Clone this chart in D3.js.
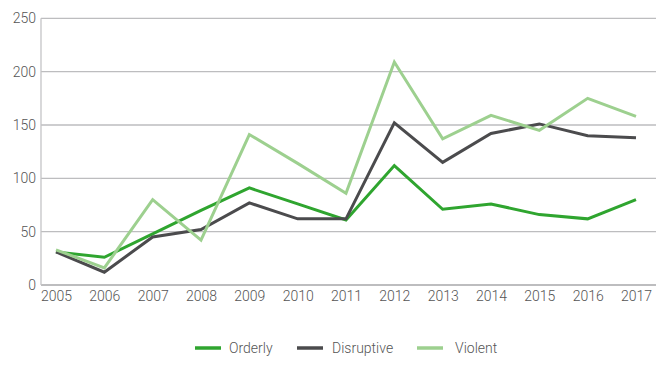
<!DOCTYPE html>
<html><head><meta charset="utf-8">
<script src="https://cdn.jsdelivr.net/npm/d3@7"></script>
<style>body{margin:0;background:#fff}svg{display:block}</style>
</head><body>
<script>
const years = ["2005","2006","2007","2008","2009","2010","2011","2012","2013","2014","2015","2016","2017"];
const orderly = [31,26,48,70,91,76,61,112,71,76,66,62,80];
const disruptive = [31,12,45,52,77,62,62,152,115,142,151,140,138];
const violent = [33,16,80,42,141,114,86,209,137,159,145,175,158];
const yTicks = [0,50,100,150,200,250];
const seriesNames = ["Orderly","Disruptive","Violent"];
const colors = ["#2fa52f","#4b4b4d","#9dd08f"];

const W=661,H=367;
const svg=d3.select("body").append("svg").attr("width",W).attr("height",H);
const font="Roboto,'Liberation Sans',Arial,sans-serif";
const x=d3.scalePoint().domain(years).range([56,636]);
const y=d3.scaleLinear().domain([0,250]).range([285,18.3]);

svg.append("g").selectAll("line").data(yTicks).join("line")
 .attr("x1",41).attr("x2",656).attr("y1",d=>y(d)).attr("y2",d=>y(d))
 .attr("stroke","#bdbdbf").attr("stroke-width",d=>d===0?2:1.3);
svg.append("line").attr("x1",41).attr("x2",41).attr("y1",y(250)).attr("y2",y(0))
 .attr("stroke","#c4c4c6").attr("stroke-width",1.3);

const ya=d3.axisLeft(y).tickValues(yTicks).tickSize(0).tickPadding(5);
svg.append("g").attr("transform","translate(41,0)").call(ya)
 .call(g=>g.select(".domain").remove())
 .selectAll("text").attr("font-family",font).attr("font-weight",300).attr("font-size",14).attr("fill","#555").attr("textLength",null);
const xa=d3.axisBottom(x).tickSize(0).tickPadding(6);
svg.append("g").attr("transform","translate(0,285)").call(xa)
 .call(g=>g.select(".domain").remove())
 .selectAll("text").attr("font-family",font).attr("font-weight",300).attr("font-size",14).attr("fill","#555");

const data=[orderly,disruptive,violent];
const line=d3.line().x((d,i)=>x(years[i])).y(d=>y(d));
[0,1,2].forEach(k=>{
 svg.append("path").datum(data[k]).attr("d",line).attr("fill","none")
  .attr("stroke",colors[k]).attr("stroke-width",3).attr("stroke-linejoin","miter");
});

const lx=[195,297,417], tx=[229,332,455];
seriesNames.forEach((n,i)=>{
 svg.append("line").attr("x1",lx[i]).attr("x2",lx[i]+26).attr("y1",348).attr("y2",348)
  .attr("stroke",colors[i]).attr("stroke-width",3.5);
 svg.append("text").attr("x",tx[i]).attr("y",353).text(n)
  .attr("font-family",font).attr("font-weight",300).attr("font-size",14).attr("fill","#555");
});
</script>
</body></html>
